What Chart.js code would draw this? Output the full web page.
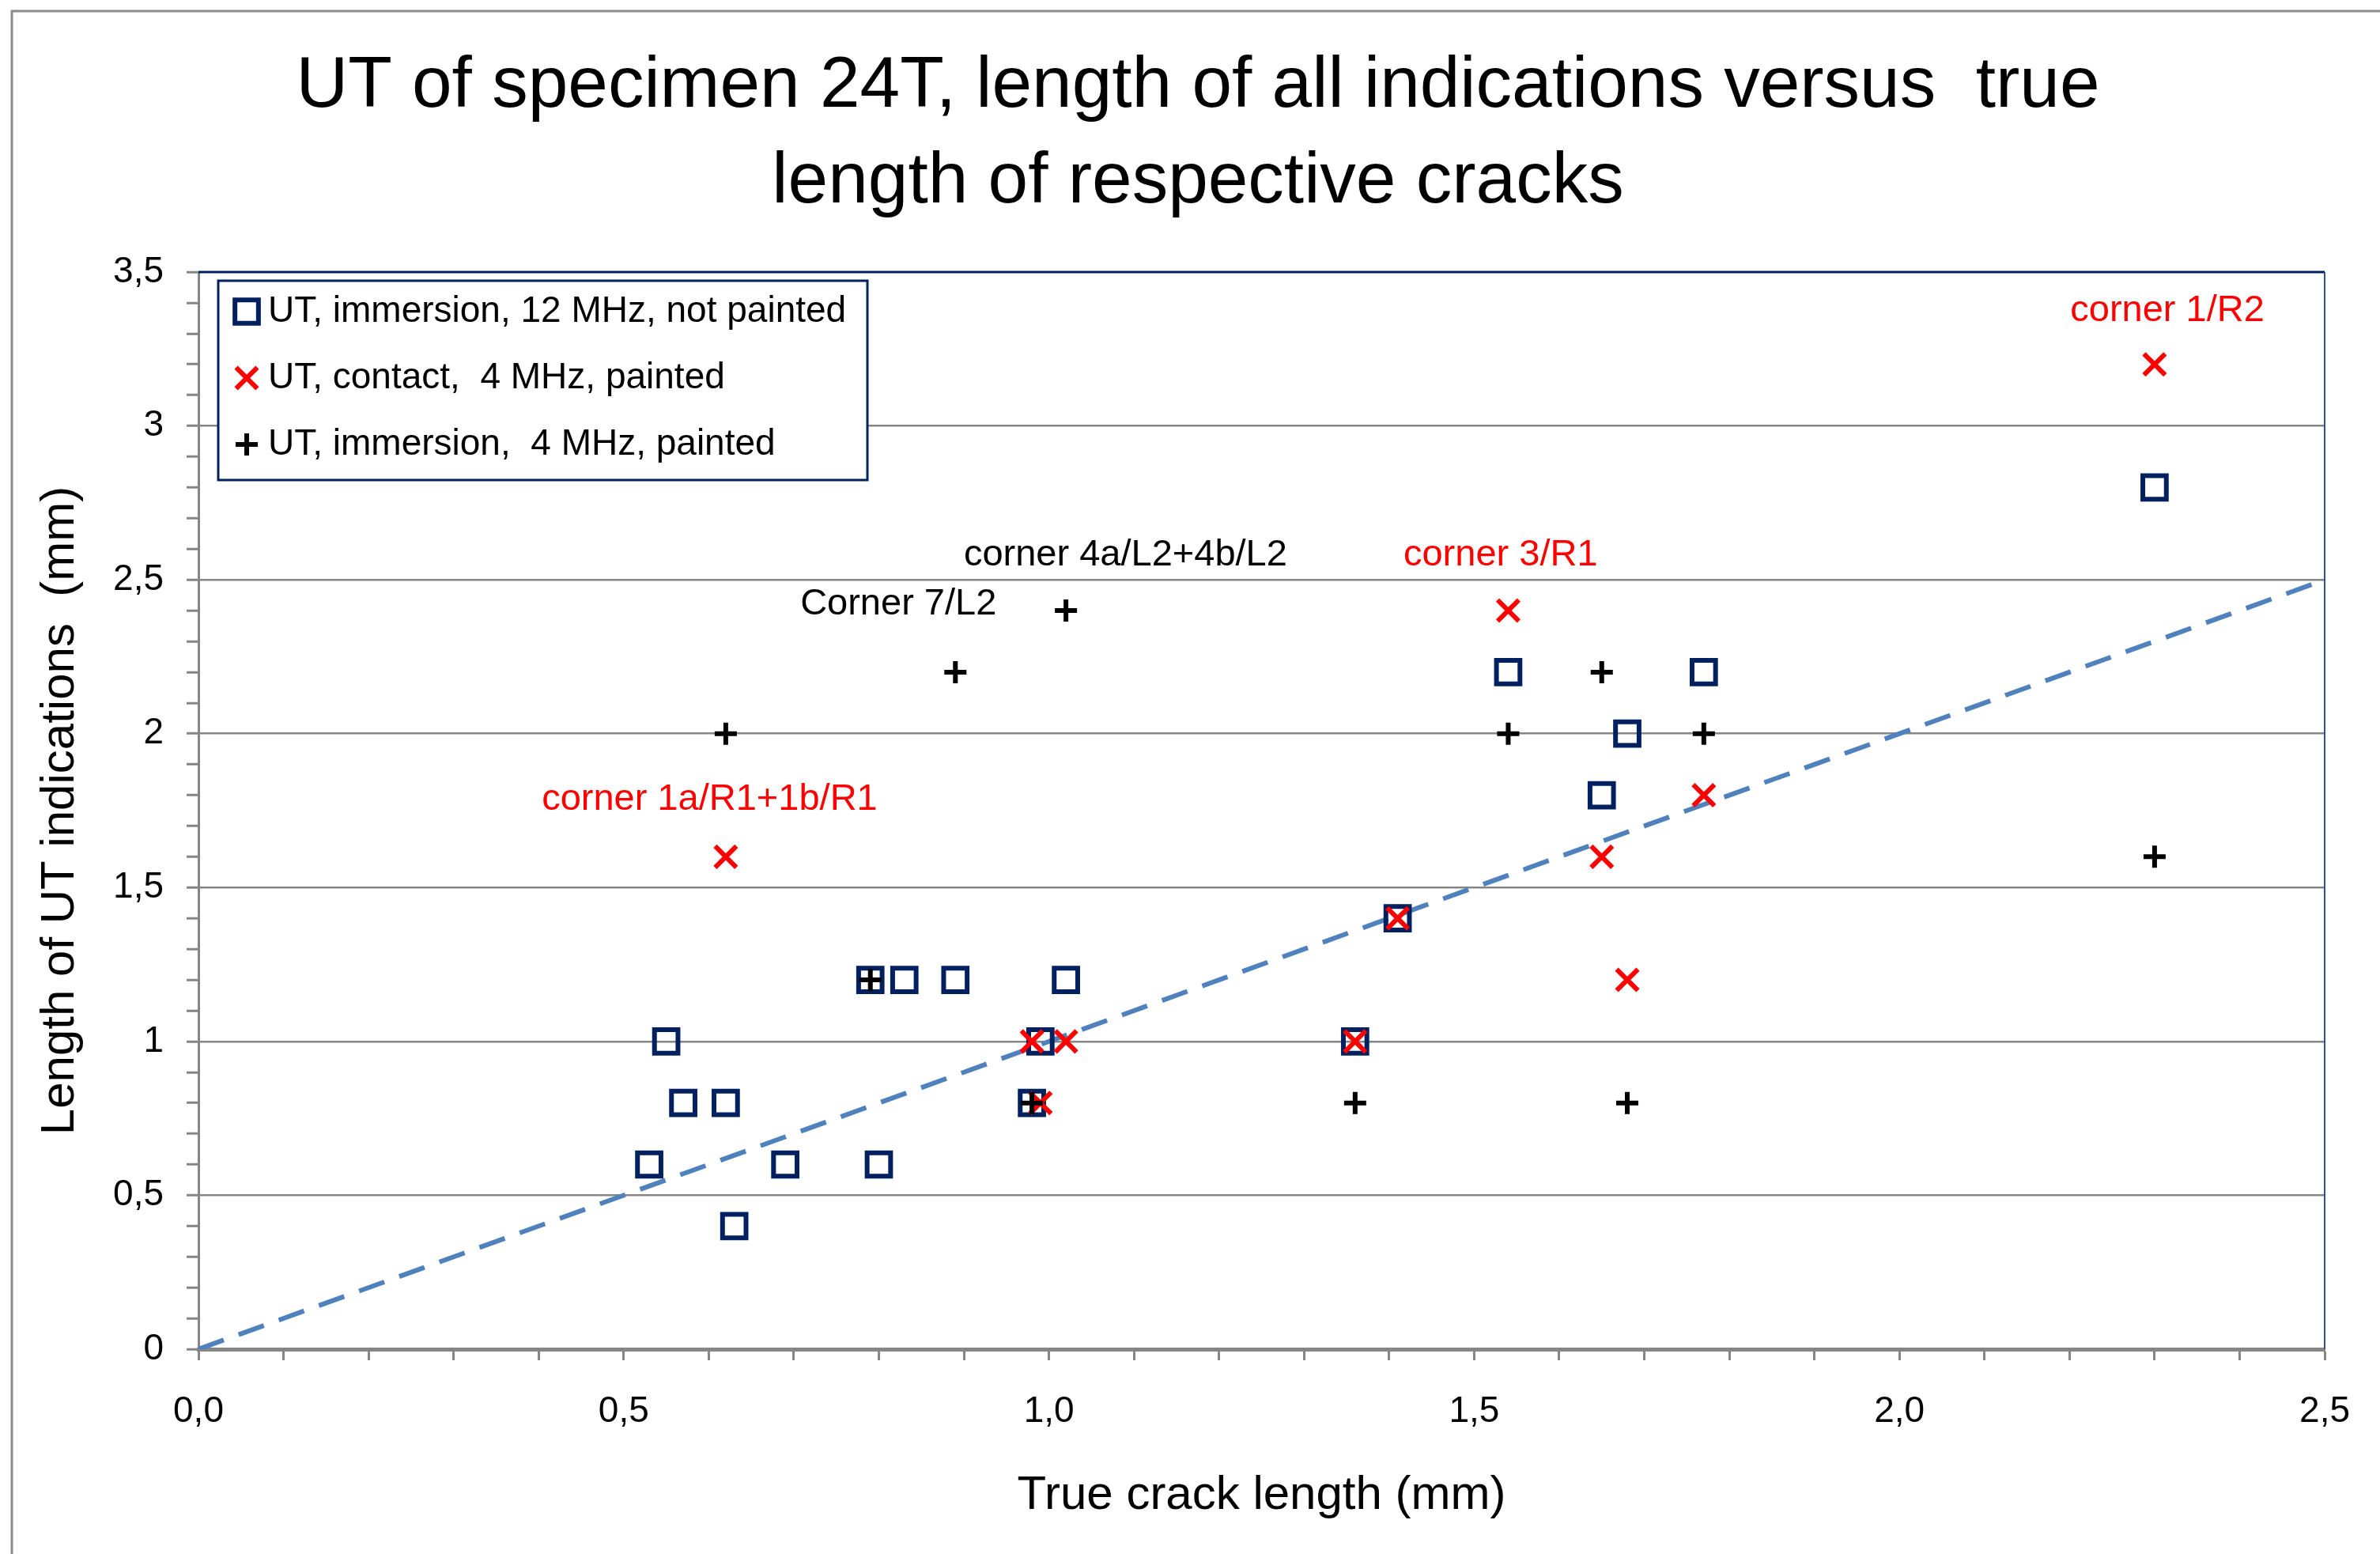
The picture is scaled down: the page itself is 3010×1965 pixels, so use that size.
<!DOCTYPE html>
<html>
<head>
<meta charset="utf-8">
<script src="https://cdn.jsdelivr.net/npm/chart.js@4.4.0/dist/chart.umd.min.js"></script>
<style>
  html, body { margin: 0; padding: 0; background: #fff; }
  #wrap { width: 3010px; height: 1965px; }
</style>
</head>
<body>
<div id="wrap"><canvas id="ut-chart" width="3010" height="1965"></canvas></div>
<script>
// data
const titleLines = ['UT of specimen 24T, length of all indications versus  true', 'length of respective cracks'];

const seriesNames = [
  'UT, immersion, 12 MHz, not painted',
  'UT, contact,  4 MHz, painted',
  'UT, immersion,  4 MHz, painted'
];

// UT, immersion, 12 MHz, not painted (squares)
const squareX = [2.30, 1.54, 1.77, 1.68, 1.65, 1.41, 0.79, 0.83, 0.89, 1.02, 0.55, 0.99, 1.36, 0.57, 0.62, 0.98, 0.53, 0.69, 0.80, 0.63];
const squareY = [2.8, 2.2, 2.2, 2.0, 1.8, 1.4, 1.2, 1.2, 1.2, 1.2, 1.0, 1.0, 1.0, 0.8, 0.8, 0.8, 0.6, 0.6, 0.6, 0.4];

// UT, contact, 4 MHz, painted (red x)
const contactX = [2.30, 1.54, 0.62, 1.77, 1.65, 1.41, 1.68, 0.98, 1.02, 1.36, 0.99];
const contactY = [3.2, 2.4, 1.6, 1.8, 1.6, 1.4, 1.2, 1.0, 1.0, 1.0, 0.8];

// UT, immersion, 4 MHz, painted (black +)
const plusX = [1.02, 0.89, 0.62, 1.54, 1.65, 1.77, 2.30, 0.79, 0.98, 1.36, 1.68];
const plusY = [2.4, 2.2, 2.0, 2.0, 2.2, 2.0, 1.6, 1.2, 0.8, 0.8, 0.8];

// 1:1 reference line
const lineX = [0, 2.5];
const lineY = [0, 2.5];

// point labels
const noteText = ['corner 1/R2', 'corner 3/R1', 'corner 4a/L2+4b/L2', 'Corner 7/L2', 'corner 1a/R1+1b/R1'];
const noteX = [2.315, 1.531, 1.09, 0.823, 0.601];
const noteY = [3.375, 2.58, 2.58, 2.42, 1.787];
const noteColor = ['#ff0000', '#ff0000', '#000000', '#000000', '#ff0000'];

const FONT = '"Liberation Sans", Arial, sans-serif';
const GREY = '#868686';
const NAVY = '#002060';

const toPoints = (xs, ys) => xs.map((x, i) => ({ x: x, y: ys[i] }));
const isMajor = v => Math.abs(v * 2 - Math.round(v * 2)) < 1e-6;

const frame = {
  id: 'frame',
  beforeDraw(chart) {
    const ctx = chart.ctx;
    ctx.save();
    ctx.fillStyle = '#fff';
    ctx.fillRect(0, 0, chart.width, chart.height);
    ctx.strokeStyle = '#8c8c8c';
    ctx.lineWidth = 3;
    ctx.strokeRect(15, 14, chart.width + 50, chart.height + 50);
    // title, centred on the page
    ctx.fillStyle = '#000';
    ctx.font = '91px ' + FONT;
    ctx.textAlign = 'center';
    ctx.textBaseline = 'middle';
    titleLines.forEach((t, i) => ctx.fillText(t, chart.width / 2 + 10, 110 + i * 121));
    ctx.restore();
  },
  beforeDatasetsDraw(chart) {
    const { ctx, chartArea: a } = chart;
    ctx.save();
    ctx.strokeStyle = NAVY;
    ctx.lineWidth = 3;
    ctx.beginPath();
    ctx.moveTo(a.left, a.top);
    ctx.lineTo(a.right, a.top);
    ctx.stroke();
    ctx.strokeStyle = '#2f4f8f';
    ctx.lineWidth = 2;
    ctx.beginPath();
    ctx.moveTo(a.right, a.top);
    ctx.lineTo(a.right, a.bottom);
    ctx.stroke();
    ctx.restore();
  }
};

const notes = {
  id: 'notes',
  afterDatasetsDraw(chart) {
    const ctx = chart.ctx;
    const sx = chart.scales.x, sy = chart.scales.y;
    ctx.save();
    ctx.font = '47px ' + FONT;
    ctx.textAlign = 'center';
    ctx.textBaseline = 'middle';
    noteText.forEach((t, i) => {
      ctx.fillStyle = noteColor[i];
      ctx.fillText(t, sx.getPixelForValue(noteX[i]), sy.getPixelForValue(noteY[i]));
    });
    ctx.restore();
  }
};

const boxLegend = {
  id: 'boxLegend',
  afterDatasetsDraw(chart) {
    const { ctx, chartArea: a } = chart;
    const left = a.left + 25, top = a.top + 11;
    ctx.save();
    ctx.fillStyle = '#fff';
    ctx.fillRect(left, top, 821, 252);
    ctx.strokeStyle = NAVY;
    ctx.lineWidth = 3;
    ctx.strokeRect(left, top, 821, 252);
    ctx.font = '46px ' + FONT;
    ctx.textBaseline = 'middle';
    seriesNames.forEach((name, i) => {
      const ds = chart.data.datasets[i];
      const y = top + 39 + i * 84;
      ctx.fillStyle = 'rgba(0,0,0,0)';
      ctx.strokeStyle = ds.pointBorderColor;
      ctx.lineWidth = ds.pointBorderWidth;
      Chart.helpers.drawPoint(ctx, {
        pointStyle: ds.pointStyle, radius: ds.pointRadius,
        borderWidth: ds.pointBorderWidth, rotation: 0
      }, left + 36, y);
      ctx.fillStyle = '#000';
      ctx.fillText(name, left + 63, y);
    });
    ctx.restore();
  }
};

const chart = new Chart(document.getElementById('ut-chart').getContext('2d'), {
  type: 'scatter',
  data: {
    datasets: [
      {
        label: seriesNames[0],
        data: toPoints(squareX, squareY),
        pointStyle: 'rect', pointRadius: 21, pointBorderWidth: 6,
        pointBorderColor: NAVY, pointBackgroundColor: 'rgba(0,0,0,0)',
        order: 3
      },
      {
        label: seriesNames[1],
        data: toPoints(contactX, contactY),
        pointStyle: 'crossRot', pointRadius: 19, pointBorderWidth: 6,
        pointBorderColor: '#ff0000', pointBackgroundColor: 'rgba(0,0,0,0)',
        order: 2
      },
      {
        label: seriesNames[2],
        data: toPoints(plusX, plusY),
        pointStyle: 'cross', pointRadius: 14, pointBorderWidth: 6,
        pointBorderColor: '#000000', pointBackgroundColor: 'rgba(0,0,0,0)',
        order: 1
      },
      {
        label: '1:1',
        data: toPoints(lineX, lineY),
        showLine: true, pointRadius: 0,
        borderColor: '#4f81bd', borderWidth: 6, borderDash: [34, 20],
        order: 4
      }
    ]
  },
  options: {
    responsive: false,
    devicePixelRatio: 1,
    animation: false,
    events: [],
    layout: { padding: { top: 344, right: 69, bottom: 0, left: 0 } },
    plugins: {
      legend: { display: false },
      tooltip: { enabled: false },
      title: { display: false }
    },
    scales: {
      x: {
        type: 'linear', min: 0, max: 2.5,
        afterFit: s => { s.height = 259; },
        ticks: {
          stepSize: 0.1, autoSkip: false, maxRotation: 0, padding: 38,
          color: '#000', font: { family: FONT, size: 46 },
          callback: v => isMajor(v) ? v.toFixed(1).replace('.', ',') : ''
        },
        grid: { drawOnChartArea: false, tickLength: 14, tickColor: GREY, tickWidth: 3 },
        border: { color: GREY, width: 5 },
        title: {
          display: true, text: 'True crack length (mm)', color: '#000',
          font: { family: FONT, size: 60 }, padding: { top: 0, bottom: 38 }
        }
      },
      y: {
        type: 'linear', min: 0, max: 3.5,
        afterFit: s => { s.width = 251; },
        ticks: {
          stepSize: 0.1, autoSkip: false, padding: 29,
          color: '#000', font: { family: FONT, size: 46 },
          callback: v => isMajor(v) ? String(+v.toFixed(1)).replace('.', ',') : ''
        },
        grid: {
          tickLength: 15, tickColor: GREY, tickWidth: 3, lineWidth: 2.5,
          color: c => (isMajor(c.tick.value) && c.tick.value > 0.01 && c.tick.value < 3.49) ? GREY : 'rgba(0,0,0,0)'
        },
        border: { color: GREY, width: 3 },
        title: {
          display: true, text: 'Length of UT indications  (mm)', color: '#000',
          font: { family: FONT, size: 60 }, padding: { top: 40, bottom: 0 }
        }
      }
    }
  },
  plugins: [frame, boxLegend, notes]
});
</script>
</body>
</html>
